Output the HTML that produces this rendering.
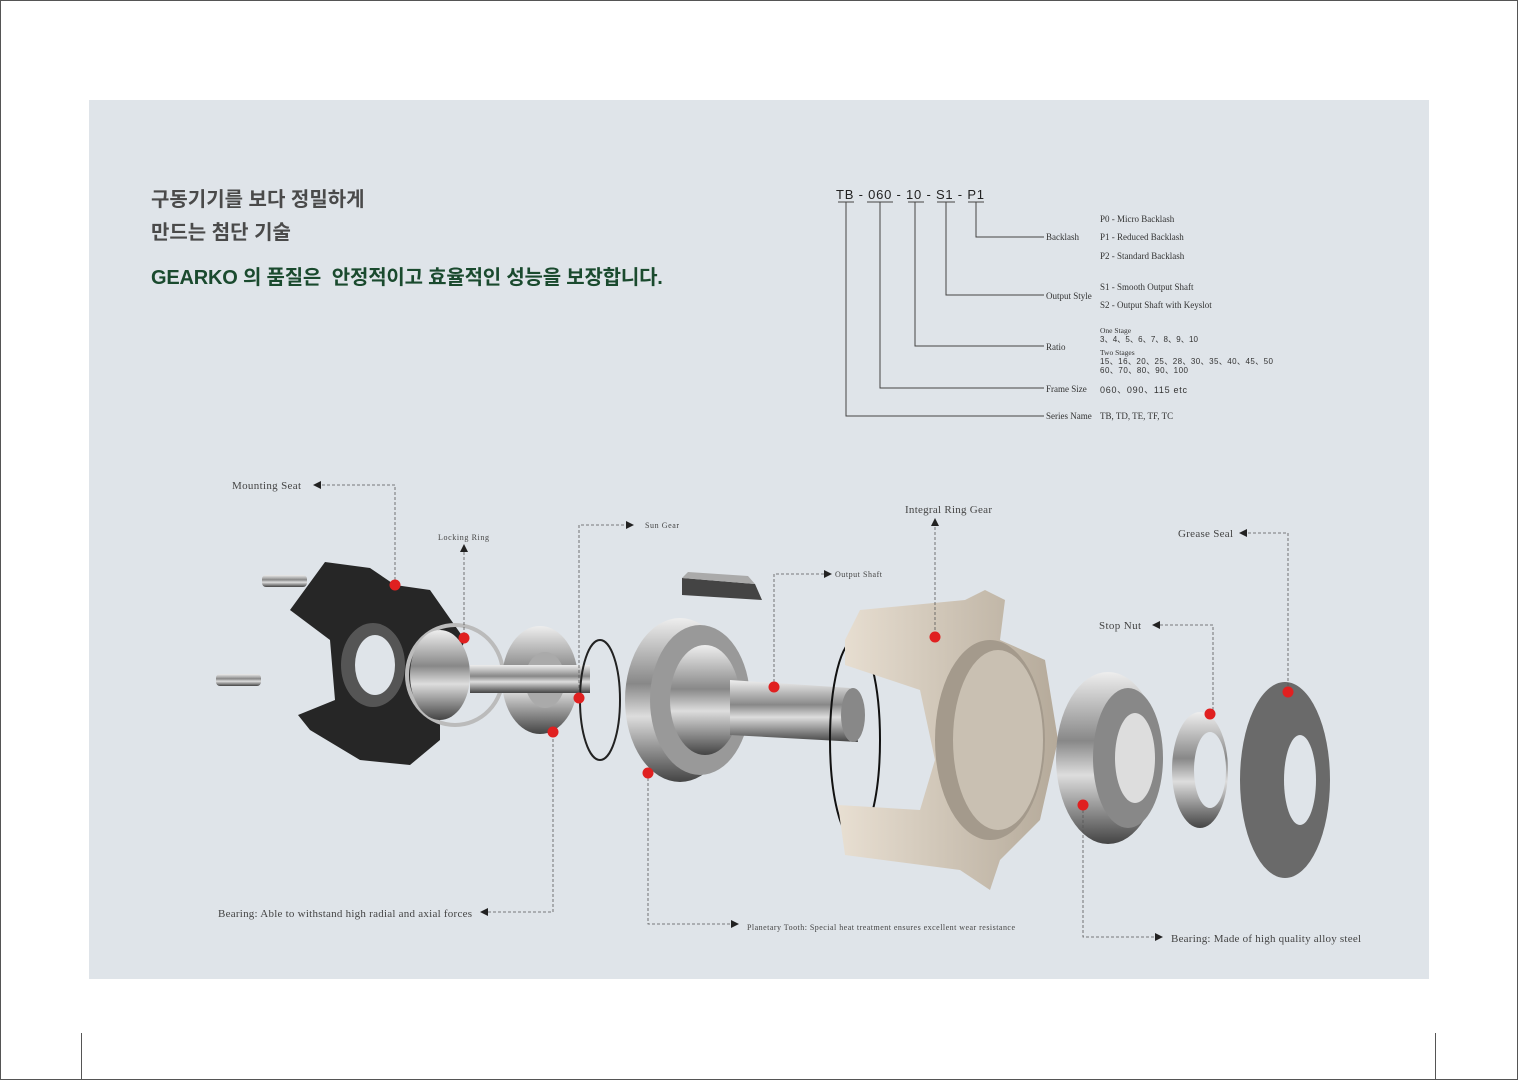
<!DOCTYPE html>
<html><head><meta charset="utf-8"><style>
html,body{margin:0;padding:0;background:#fff;}
body{width:1518px;height:1080px;position:relative;overflow:hidden;font-family:"Liberation Serif",serif;}
.panel{position:absolute;left:89px;top:100px;width:1340px;height:879px;background:#dfe4e9;}
.kr{position:absolute;font-family:"Liberation Sans","Noto Sans CJK KR",sans-serif;font-weight:bold;white-space:nowrap;}
svg{position:absolute;left:0;top:0;}
</style></head><body>
<div style="position:absolute;left:0;top:0;width:1518px;height:1px;background:#555"></div>
<div style="position:absolute;left:0;top:0;width:1px;height:1080px;background:#555"></div>
<div style="position:absolute;left:1517px;top:0;width:1px;height:1080px;background:#555"></div>
<div style="position:absolute;left:0;top:1079px;width:1518px;height:1px;background:#555"></div>
<div style="position:absolute;left:81px;top:1033px;width:1px;height:47px;background:#555"></div>
<div style="position:absolute;left:1435px;top:1033px;width:1px;height:47px;background:#555"></div>
<div class="panel"></div>
<div class="kr" style="left:151px;top:184px;font-size:20px;color:#4a4a4a;line-height:33px;">구동기기를 보다 정밀하게<br>만드는 첨단 기술</div>
<div class="kr" style="left:151px;top:261px;font-size:20px;color:#1a4a2e;letter-spacing:-0.2px;">GEARKO 의 품질은&nbsp; 안정적이고 효율적인 성능을 보장합니다.</div>
<svg width="1518" height="1080" viewBox="0 0 1518 1080">
<g font-family="Liberation Sans,sans-serif" font-size="13" fill="#222">
<text x="836" y="199" textLength="148" lengthAdjust="spacing">TB - 060 - 10 - S1 - P1</text>
</g>
<g stroke="#444" stroke-width="1" fill="none">
<path d="M838 202h16M867 202h26M908 202h16M937 202h18M968 202h16"/>
<path d="M976 202v35h68M946 202v93h98M915 202v144h129M880 202v186h164M846 202v214h198"/>
</g>
<g font-family="Liberation Serif,serif" font-size="9" fill="#333">
<text x="1046" y="240">Backlash</text><text x="1046" y="299">Output Style</text><text x="1046" y="350">Ratio</text>
<text x="1046" y="392">Frame Size</text><text x="1046" y="419">Series Name</text>
<text x="1100" y="222">P0 - Micro Backlash</text><text x="1100" y="240">P1 - Reduced Backlash</text><text x="1100" y="259">P2 - Standard Backlash</text>
<text x="1100" y="290">S1 - Smooth Output Shaft</text><text x="1100" y="308">S2 - Output Shaft with Keyslot</text>
<text x="1100" y="333" font-size="7.5">One Stage</text><text x="1100" y="355" font-size="7.5">Two Stages</text>
<text x="1100" y="419">TB, TD, TE, TF, TC</text>
</g>
<g font-family="Liberation Sans,sans-serif" font-size="8" fill="#333">
<text x="1100" y="342" textLength="98">3、4、5、6、7、8、9、10</text>
<text x="1100" y="364" textLength="173">15、16、20、25、28、30、35、40、45、50</text>
<text x="1100" y="373" textLength="88">60、70、80、90、100</text>
<text x="1100" y="393" font-size="9" textLength="87">060、090、115 etc</text>
</g>

<defs>
<linearGradient id="met" x1="0" y1="0" x2="0" y2="1"><stop offset="0" stop-color="#eee"/><stop offset=".4" stop-color="#888"/><stop offset=".6" stop-color="#ddd"/><stop offset="1" stop-color="#444"/></linearGradient>
<linearGradient id="beige" x1="0" y1="0" x2="1" y2="0"><stop offset="0" stop-color="#e8dfd2"/><stop offset="1" stop-color="#b5aa9a"/></linearGradient>
</defs>
<rect x="262" y="575" width="45" height="12" rx="4" fill="url(#met)"/>
<rect x="216" y="674" width="45" height="12" rx="4" fill="url(#met)"/>
<path d="M290 610 L325 562 L370 568 L395 585 L430 590 L465 640 L440 700 L440 740 L410 765 L360 760 L310 730 L298 715 L335 700 L330 640 Z" fill="#262626"/>
<ellipse cx="373" cy="665" rx="32" ry="42" fill="#555"/><ellipse cx="375" cy="665" rx="20" ry="30" fill="#dfe4e9"/>
<ellipse cx="455" cy="675" rx="48" ry="50" fill="none" stroke="#bbb" stroke-width="4"/>
<ellipse cx="440" cy="675" rx="30" ry="45" fill="url(#met)"/>
<ellipse cx="540" cy="680" rx="38" ry="54" fill="url(#met)"/>
<ellipse cx="545" cy="680" rx="20" ry="28" fill="#aaa"/>
<rect x="470" y="665" width="120" height="28" fill="url(#met)"/>
<ellipse cx="600" cy="700" rx="20" ry="60" fill="none" stroke="#222" stroke-width="2"/>
<ellipse cx="680" cy="700" rx="55" ry="82" fill="url(#met)"/>
<ellipse cx="700" cy="700" rx="50" ry="75" fill="#999"/>
<ellipse cx="705" cy="700" rx="35" ry="55" fill="url(#met)"/>
<path d="M730 680 L850 688 L858 742 L730 735 Z" fill="url(#met)"/>
<ellipse cx="853" cy="715" rx="12" ry="27" fill="#888"/>
<path d="M682 578 L755 584 L762 600 L682 595 Z" fill="#444"/><path d="M682 578 L755 584 L748 576 L688 572Z" fill="#aaa"/>
<ellipse cx="855" cy="740" rx="25" ry="100" fill="none" stroke="#111" stroke-width="2"/>
<path d="M845 640 L860 610 L965 600 L985 590 L1005 600 L1000 640 L1045 660 L1058 740 L1040 820 L1000 860 L990 890 L960 870 L845 855 L838 805 L920 810 L935 760 L920 690 L845 665 Z" fill="url(#beige)"/>
<ellipse cx="990" cy="740" rx="55" ry="100" fill="#a49a8c"/>
<ellipse cx="998" cy="740" rx="45" ry="90" fill="#c9c0b2"/>
<ellipse cx="1108" cy="758" rx="52" ry="86" fill="url(#met)"/>
<ellipse cx="1128" cy="758" rx="35" ry="70" fill="#888"/>
<ellipse cx="1135" cy="758" rx="20" ry="45" fill="#ddd"/>
<ellipse cx="1200" cy="770" rx="28" ry="58" fill="url(#met)"/>
<ellipse cx="1210" cy="770" rx="16" ry="38" fill="#dfe4e9"/>
<ellipse cx="1285" cy="780" rx="45" ry="98" fill="#6a6a6a"/>
<ellipse cx="1300" cy="780" rx="16" ry="45" fill="#dfe4e9"/>

<g stroke="#555" stroke-width="0.8" fill="none" stroke-dasharray="3,2">
<path d="M322 485H395V585"/><path d="M464 552V638"/><path d="M579 698V525H627"/><path d="M774 687V574H825"/>
<path d="M935 527V637"/><path d="M1248 533H1288V692"/><path d="M1160 625H1213V714"/>
<path d="M488 912H553V732"/><path d="M648 773V924H731"/><path d="M1083 805V937H1156"/>
</g>
<g fill="#222">
<path d="M313 485l8-4v8z"/><path d="M464 544l-4 8h8z"/><path d="M634 525l-8-4v8z"/><path d="M832 574l-8-4v8z"/>
<path d="M935 518l-4 8h8z"/><path d="M1239 533l8-4v8z"/><path d="M1152 625l8-4v8z"/>
<path d="M480 912l8-4v8z"/><path d="M739 924l-8-4v8z"/><path d="M1163 937l-8-4v8z"/>
</g>
<g fill="#e02020">
<circle cx="395" cy="585" r="5.5"/><circle cx="464" cy="638" r="5.5"/><circle cx="579" cy="698" r="5.5"/>
<circle cx="553" cy="732" r="5.5"/><circle cx="648" cy="773" r="5.5"/><circle cx="774" cy="687" r="5.5"/>
<circle cx="935" cy="637" r="5.5"/><circle cx="1083" cy="805" r="5.5"/><circle cx="1210" cy="714" r="5.5"/><circle cx="1288" cy="692" r="5.5"/>
</g>
<g font-family="Liberation Serif,serif" fill="#444">
<text x="232" y="489" font-size="11" textLength="69">Mounting Seat</text>
<text x="438" y="540" font-size="8" textLength="51">Locking Ring</text>
<text x="645" y="528" font-size="8" textLength="34">Sun Gear</text>
<text x="835" y="577" font-size="8" textLength="47">Output Shaft</text>
<text x="905" y="513" font-size="11" textLength="87">Integral Ring Gear</text>
<text x="1178" y="537" font-size="11" textLength="55">Grease Seal</text>
<text x="1099" y="629" font-size="11" textLength="42">Stop Nut</text>
<text x="218" y="917" font-size="11" textLength="254">Bearing: Able to withstand high radial and axial forces</text>
<text x="747" y="930" font-size="8" textLength="268">Planetary Tooth: Special heat treatment ensures excellent wear resistance</text>
<text x="1171" y="942" font-size="11" textLength="190">Bearing: Made of high quality alloy steel</text>
</g>
</svg>
</body></html>
